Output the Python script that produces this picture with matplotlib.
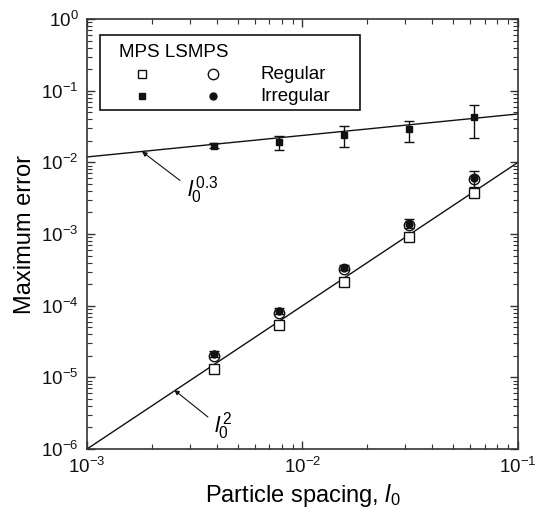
import matplotlib
matplotlib.use("Agg")
import matplotlib.pyplot as plt
from matplotlib.patches import Rectangle

plt.rcParams['font.family'] = ['Liberation Sans', 'DejaVu Sans']
plt.rcParams['mathtext.fontset'] = 'custom'
plt.rcParams['mathtext.rm'] = 'Liberation Sans'
plt.rcParams['mathtext.it'] = 'Liberation Sans:italic'
plt.rcParams['mathtext.bf'] = 'Liberation Sans:bold'

# particle spacing
h = [0.0039, 0.0078, 0.0156, 0.0313, 0.0625]

# regular distributions
mps_reg = [1.32e-5, 5.4e-5, 2.17e-4, 9.0e-4, 3.7e-3]
lsmps_reg = [2.0e-5, 8.0e-5, 3.25e-4, 1.35e-3, 5.8e-3]

# irregular distributions (mean, lower, upper)
mps_irr = [0.0170, 0.0192, 0.0243, 0.0289, 0.0425]
mps_irr_lo = [0.0157, 0.0148, 0.0166, 0.0194, 0.0221]
mps_irr_hi = [0.0184, 0.0236, 0.0322, 0.0381, 0.0631]
lsmps_irr = [2.1e-5, 8.4e-5, 3.4e-4, 1.4e-3, 6.0e-3]
lsmps_irr_lo = [1.9e-5, 7.6e-5, 3.1e-4, 1.2e-3, 4.6e-3]
lsmps_irr_hi = [2.3e-5, 9.2e-5, 3.7e-4, 1.6e-3, 7.6e-3]

# reference slopes
ref_x = [1e-3, 1e-1]
ref_y2 = [1e-6, 1e-2]
ref_y03 = [0.0119, 0.0474]

k = '#111111'

fig = plt.figure(figsize=(5.36, 5.16), dpi=100)
ax = fig.add_axes([0.1623, 0.1298, 0.8041, 0.8333])
ax.set_xscale('log')
ax.set_yscale('log')

ax.plot(ref_x, ref_y2, color=k, lw=1.0)
ax.plot(ref_x, ref_y03, color=k, lw=1.0)

ax.plot(h, mps_reg, 's', ms=6.5, mfc='white', mec=k, mew=1.0, ls='none', zorder=3)
ax.plot(h, lsmps_reg, 'o', ms=7.5, mfc='white', mec=k, mew=1.0, ls='none', zorder=3)

err1 = [[m - l for m, l in zip(mps_irr, mps_irr_lo)], [u - m for m, u in zip(mps_irr, mps_irr_hi)]]
ax.errorbar(h, mps_irr, yerr=err1, fmt='s', ms=5, color=k, ecolor=k, elinewidth=1.0,
            capsize=3.5, capthick=1.0, zorder=4)
err2 = [[m - l for m, l in zip(lsmps_irr, lsmps_irr_lo)], [u - m for m, u in zip(lsmps_irr, lsmps_irr_hi)]]
ax.errorbar(h, lsmps_irr, yerr=err2, fmt='o', ms=5, color=k, ecolor=k, elinewidth=1.0,
            capsize=3.5, capthick=1.0, zorder=4)

ax.set_xlim(1e-3, 1e-1)
ax.set_ylim(1e-6, 1e0)

# annotations
arr = dict(arrowstyle='-|>', color=k, lw=0.8, mutation_scale=7, shrinkA=0, shrinkB=0)
ax.annotate('', xy=(0.0018, 0.01415), xytext=(0.0027, 0.0056), arrowprops=arr)
ax.text(0.00290, 0.0041, r'$\mathit{l}_0^{\,0.3}$', fontsize=16, ha='left', va='center')
ax.annotate('', xy=(0.00254, 6.66e-6), xytext=(0.00364, 2.8e-6), arrowprops=arr)
ax.text(0.00390, 2.1e-6, r'$\mathit{l}_0^{\,2}$', fontsize=16, ha='left', va='center')

# legend box drawn by hand
ax.add_patch(Rectangle((0.030, 0.788), 0.603, 0.175, transform=ax.transAxes,
                       fill=False, ec=k, lw=1.2, zorder=5))
ax.text(0.075, 0.922, 'MPS LSMPS', transform=ax.transAxes, fontsize=13.5, ha='left', va='center')
ax.plot([0.128], [0.872], 's', ms=6, mfc='white', mec=k, mew=1.0, transform=ax.transAxes, clip_on=False)
ax.plot([0.292], [0.872], 'o', ms=7.5, mfc='white', mec=k, mew=1.0, transform=ax.transAxes, clip_on=False)
ax.plot([0.128], [0.820], 's', ms=5, color=k, transform=ax.transAxes, clip_on=False)
ax.plot([0.292], [0.820], 'o', ms=5, color=k, transform=ax.transAxes, clip_on=False)
ax.text(0.402, 0.872, 'Regular', transform=ax.transAxes, fontsize=13.5, ha='left', va='center')
ax.text(0.402, 0.820, 'Irregular', transform=ax.transAxes, fontsize=13.5, ha='left', va='center')

ax.set_xlabel(r'Particle spacing, $\mathit{l}_0$', fontsize=17, labelpad=3)
ax.set_ylabel('Maximum error', fontsize=17, labelpad=4)

ax.tick_params(which='both', direction='in', top=True, right=True, colors='#333333',
               labelcolor=k, labelsize=13.5)
ax.tick_params(which='major', length=6, width=1.0, pad=6)
ax.tick_params(which='minor', length=3.5, width=0.8)
for s in ax.spines.values():
    s.set_linewidth(1.2)
    s.set_color('#333333')

fig.savefig('out.png', dpi=100)
